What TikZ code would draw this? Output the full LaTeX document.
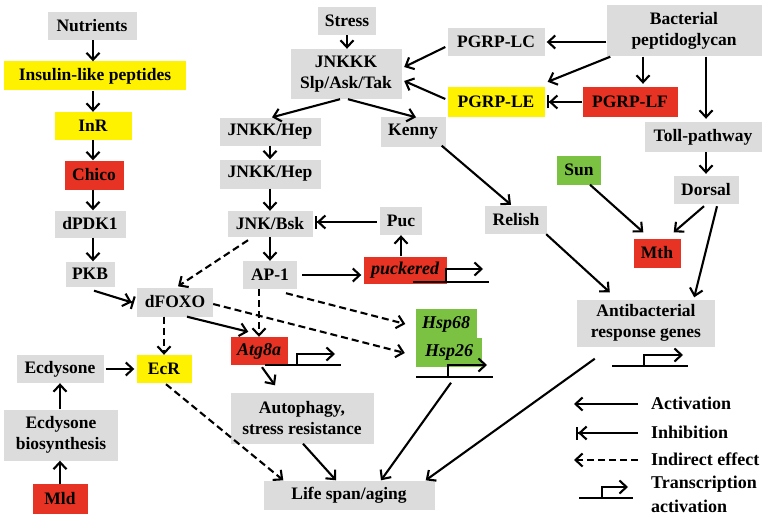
\documentclass[tikz,border=0pt]{standalone}
\usepackage{fontspec}
\setmainfont{Liberation Serif}
\usetikzlibrary{arrows.meta,calc}
\definecolor{bgray}{HTML}{DCDCDC}
\definecolor{byel}{HTML}{FFF200}
\definecolor{bred}{HTML}{E63323}
\definecolor{bgreen}{HTML}{7CC242}
\begin{document}
\begin{tikzpicture}[x=1pt,y=-1pt,
  every node/.style={font=\fontsize{17.5}{21.5}\selectfont\bfseries, inner sep=0pt, align=center, text=black},
  sz/.style 2 args={minimum width=#1pt, minimum height=#2pt},
  g/.style={fill=bgray},
  yel/.style={fill=byel},
  rd/.style={fill=bred},
  gr/.style={fill=bgreen},
  gene/.style={font=\fontsize{18}{21.5}\selectfont\bfseries\itshape},
  act/.style={line width=2.1pt, -{Straight Barb[length=7pt,width=13pt]}},
  ind/.style={act, dash pattern=on 7pt off 4pt},
  inh/.style={line width=2.1pt, -{Straight Barb[length=7pt,width=13pt] Bar[width=13pt,sep=0pt]}},
  tr/.style={line width=2.1pt},
  tra/.style={line width=2.1pt, -{Straight Barb[length=7pt,width=13pt]}},
  leg/.style={font=\fontsize{18}{24}\selectfont\bfseries, anchor=west, align=left}
]
\fill[white] (0,0) rectangle (765,516);
\useasboundingbox (0,0) rectangle (765,516);

% left column
\node[g,sz={89}{28}] (nut) at (92,26) {Nutrients};
\node[yel,sz={182}{29}] (ilp) at (95,76) {Insulin-like peptides};
\node[yel,sz={77}{28}] (inr) at (93,126) {InR};
\node[rd,sz={59}{29}] (chico) at (94,175) {Chico};
\node[g,sz={71}{27}] (pdk) at (90,224) {dPDK1};
\node[g,sz={49}{25}] (pkb) at (90,274) {PKB};
\node[g,sz={76}{29}] (foxo) at (175,302) {dFOXO};
\node[yel,sz={55}{28}] (ecr) at (164,369) {EcR};
\node[g,sz={87}{28}] (ecd) at (60,369) {Ecdysone};
\node[g,sz={114}{51}] (ecdb) at (61,435) {Ecdysone\\biosynthesis};
\node[rd,sz={55}{30}] (mld) at (60,499) {Mld};

% JNK column
\node[g,sz={58}{28}] (stress) at (347,21) {Stress};
\node[g,sz={111}{50}] (jnkkk) at (346,74) {JNKKK\\Slp/Ask/Tak};
\node[g,sz={101}{27}] (hep1) at (270,132) {JNKK/Hep};
\node[g,sz={101}{29}] (hep2) at (270,174) {JNKK/Hep};
\node[g,sz={85}{26}] (bsk) at (270,224) {JNK/Bsk};
\node[g,sz={65}{29}] (kenny) at (413,132) {Kenny};
\node[g,sz={42}{28}] (puc) at (401,221) {Puc};
\node[g,sz={54}{28}] (ap1) at (270,275) {AP-1};
\node[rd,sz={83}{27},gene] (puck) at (405,270) {puckered};
\node[gr,sz={61}{30},gene] (hsp68) at (446,324) {Hsp68};
\node[gr,sz={66}{29},gene] (hsp26) at (449,352) {Hsp26};
\node[rd,sz={57}{28},gene] (atg) at (259,351) {Atg8a};
\node[g,sz={143}{51}] (auto) at (302,418) {Autophagy,\\stress resistance};
\node[g,sz={171}{29}] (life) at (349,495) {Life span/aging};

% right part
\node[g,sz={155}{51}] (bact) at (684,31) {Bacterial\\peptidoglycan};
\node[g,sz={97}{28}] (lc) at (496,42) {PGRP-LC};
\node[yel,sz={97}{30}] (le) at (496,102) {PGRP-LE};
\node[rd,sz={95}{30}] (lf) at (630,102) {PGRP-LF};
\node[g,sz={117}{30}] (toll) at (703,137) {Toll-pathway};
\node[gr,sz={44}{29}] (sun) at (579,170) {Sun};
\node[g,sz={65}{28}] (dorsal) at (706,190) {Dorsal};
\node[g,sz={62}{28}] (relish) at (516,220) {Relish};
\node[rd,sz={47}{29}] (mth) at (657,253) {Mth};
\node[g,sz={138}{47}] (anti) at (646,323) {Antibacterial\\response genes};

% gene symbols
\draw[tr] (413,282) -- (489,282);
\draw[tra] (446,282) -- (446,269) -- (483,269);
\draw[tr] (265,365) -- (341,365);
\draw[tra] (297,365) -- (297,354) -- (335,354);
\draw[tr] (416,377) -- (493,377);
\draw[tra] (448,377) -- (448,365) -- (487,365);
\draw[tr] (612,366) -- (688,366);
\draw[tra] (644,366) -- (644,355) -- (683,355);

% insulin chain
\draw[act] (nut.south -| 93,0) -- (ilp.north -| 93,0);
\draw[act] (ilp.south -| 93,0) -- (inr.north -| 93,0);
\draw[act] (inr.south -| 93,0) -- (chico.north -| 93,0);
\draw[act] (chico.south -| 93,0) -- (pdk.north -| 93,0);
\draw[act] (pdk.south -| 93,0) -- (pkb.north -| 93,0);
\draw[inh] ($(pkb.south)+(4,4)$) -- ($(foxo.west)+(-3,1)$);
\draw[ind] (ecr.north |- foxo.south) -- (ecr.north);
\draw[act] ($(ecd.east)+(2,0)$) -- ($(ecr.west)+(-2,0)$);
\draw[act] (ecd.south |- ecdb.north) -- (ecd.south);
\draw[act] (mld.north) -- (mld.north |- ecdb.south);

% JNK
\draw[act] (stress.south) -- (stress.south |- jnkkk.north);
\draw[act] ($(lc.west)+(-2,5)$) -- ($(jnkkk.east)+(2.5,-7)$);
\draw[act] ($(le.west)+(-2,-3)$) -- ($(jnkkk.east)+(2.5,7)$);
\draw[act] ($(jnkkk.south)+(-6,0)$) -- ($(hep1.north)+(2,-1)$);
\draw[act] ($(jnkkk.south)+(2,0)$) -- ($(kenny.north)+(3,0)$);
\draw[act] (hep1.south) -- (hep2.north);
\draw[act] (hep2.south) -- (bsk.north);
\draw[act] (bsk.south) -- (ap1.north);
\draw[inh] ($(puc.west)+(-3,1)$) -- ($(bsk.east |- puc.west)+(2,1)$);
\draw[act] ($(ap1.east)+(5,0)$) -- ($(ap1.east -| puck.west)+(-2,0)$);
\draw[act] (puc.south |- puck.north) -- (puc.south);
\draw[ind] ($(bsk.south)+(-22,3)$) -- ($(foxo.north)+(3,-1)$);
\draw[act] ($(foxo.south)+(12,0)$) -- ($(atg.north west)+(18,-5)$);
\draw[ind] (atg.north |- ap1.south) -- (atg.north);
\draw[ind] ($(foxo.east)+(0,2)$) -- ($(hsp26.west)+(-11,1)$);
\draw[ind] ($(ap1.south)+(16,4)$) -- ($(hsp68.west)+(-10,0)$);
\draw[act] ($(atg.south)+(3,2)$) -- ($(auto.north)+(-27,-7)$);
\draw[act] ($(auto.south)+(1,0)$) -- ($(life.north)+(-13,0)$);
\draw[ind] ($(ecr.south)+(2,1)$) -- ($(life.north west)+(20,0)$);
\draw[act] ($(hsp26.south)+(2,16)$) -- ($(life.north)+(32,0)$);
\draw[act] ($(anti.south west)+(18,12)$) -- ($(life.north east)+(-9,0)$);
\draw[act] ($(kenny.south east)+(-4,-1)$) -- ($(relish.north)+(-5,-1)$);
\draw[act] ($(relish.south east)+(-1,0)$) -- ($(anti.north west)+(33,-7)$);

% bacterial
\draw[act] (bact.west |- lc.east) -- ($(lc.east)+(2,0)$);
\draw[act] ($(bact.south west)+(4,0)$) -- ($(le.north east)+(3,-5)$);
\draw[act] ($(bact.south)+(-41,0)$) -- ($(lf.north)+(13,-3)$);
\draw[inh] (lf.west) -- ($(le.east)+(2,0)$);
\draw[act] ($(bact.south)+(22,0)$) -- ($(toll.north)+(3,-3)$);
\draw[act] (dorsal.north |- toll.south) -- ($(dorsal.north)+(0,-2)$);
\draw[act] ($(dorsal.south)+(-2,2)$) -- ($(mth.north east)+(-7,-6)$);
\draw[act] ($(dorsal.south)+(11,2)$) -- ($(anti.north east)+(-21,-2)$);
\draw[act] ($(sun.south)+(11,0)$) -- ($(mth.north west)+(10,-6)$);

% legend
\coordinate (la1) at (638,404); \coordinate (la2) at (574,404);
\coordinate (lb1) at (638,433); \coordinate (lb2) at (576,433);
\coordinate (lc1) at (638,460); \coordinate (lc2) at (574,460);
\draw[act] (la1) -- (la2);
\draw[inh] (lb1) -- (lb2);
\draw[ind] (lc1) -- (lc2);
\draw[tr] (579,498) -- (633,498);
\draw[tra] (602,498) -- (602,487) -- (628,487);
\node[leg] (t1) at (651,403) {Activation};
\node[leg] (t2) at (651,432) {Inhibition};
\node[leg] (t3) at (651,459) {Indirect effect};
\node[leg] (t4) at (651,494) {Transcription\\activation};
\end{tikzpicture}
\end{document}
